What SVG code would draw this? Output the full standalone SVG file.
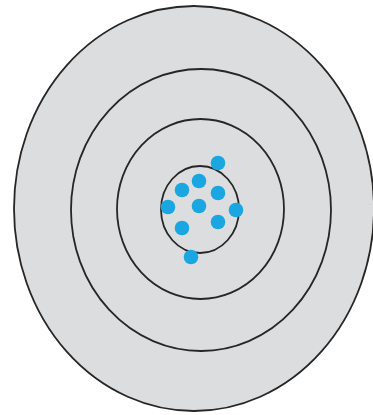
<svg xmlns="http://www.w3.org/2000/svg" width="373" height="415" viewBox="0 0 373 415">
<style>
.ring{fill:#dcdddf;stroke:#262626;stroke-width:1.8}
.ring2{fill:none;stroke:#262626;stroke-width:1.8}
.dot{fill:#1aa7e1}
</style>
<rect width="373" height="415" fill="#ffffff"/>
<g id="target">
<ellipse class="ring" cx="194" cy="208.5" rx="180" ry="202.5"/>
<ellipse class="ring2" cx="201" cy="210" rx="130" ry="141"/>
<ellipse class="ring2" cx="200.5" cy="209" rx="83.5" ry="90"/>
<ellipse class="ring2" cx="200" cy="209.5" rx="39" ry="43.5"/>
</g>
<g id="hits">
<circle class="dot" cx="218" cy="163" r="7.3"/>
<circle class="dot" cx="199" cy="181" r="7.3"/>
<circle class="dot" cx="182" cy="190" r="7.3"/>
<circle class="dot" cx="218" cy="193" r="7.3"/>
<circle class="dot" cx="168" cy="207" r="7.3"/>
<circle class="dot" cx="199" cy="206" r="7.3"/>
<circle class="dot" cx="236" cy="210" r="7.3"/>
<circle class="dot" cx="182" cy="228" r="7.3"/>
<circle class="dot" cx="218" cy="222" r="7.3"/>
<circle class="dot" cx="191" cy="257" r="7.3"/>
</g>
</svg>
